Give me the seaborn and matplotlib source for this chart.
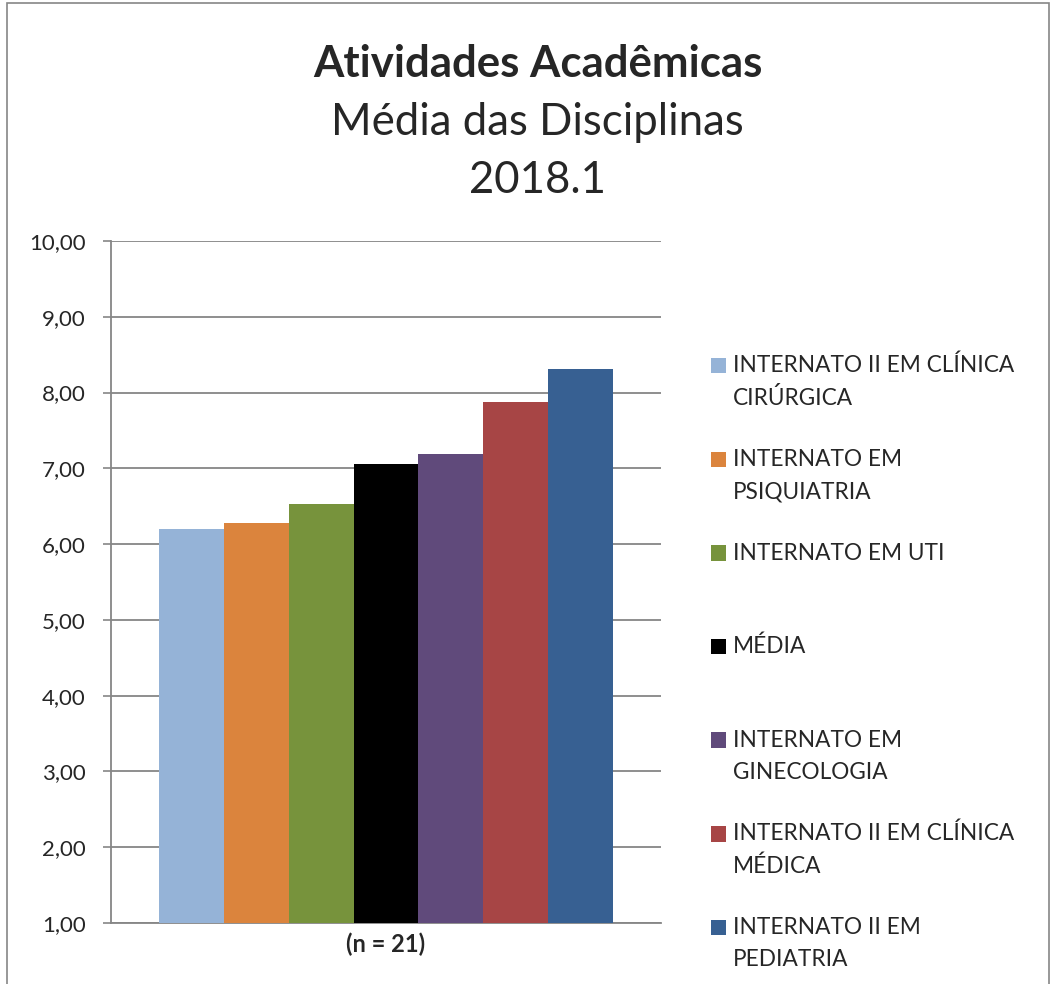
import pandas as pd
import seaborn as sns
import matplotlib.pyplot as plt
import matplotlib.patches as mpatches
from matplotlib.legend_handler import HandlerPatch

# dados
disciplinas = [
    "INTERNATO II EM CLÍNICA\nCIRÚRGICA",
    "INTERNATO EM\nPSIQUIATRIA",
    "INTERNATO EM UTI\n ",
    "MÉDIA\n ",
    "INTERNATO EM\nGINECOLOGIA",
    "INTERNATO II EM CLÍNICA\nMÉDICA",
    "INTERNATO II EM\nPEDIATRIA",
]
medias = [6.20, 6.28, 6.53, 7.06, 7.19, 7.87, 8.31]
cores = ["#95B3D7", "#DB843D", "#77933C", "#000000", "#604A7B", "#A74545", "#376092"]
grupo = "(n = 21)"
yticks = [1, 2, 3, 4, 5, 6, 7, 8, 9, 10]

df = pd.DataFrame({"grupo": grupo, "disciplina": disciplinas, "media": medias})

sns.set_style("white")
plt.rcParams["font.family"] = ["Lato", "DejaVu Sans"]
GRAY = "#868686"

fig = plt.figure(figsize=(10.52, 9.84), dpi=100)
ax = fig.add_axes([111 / 1052, 1 - 923 / 984, 550 / 1052, 682 / 984])

sns.barplot(data=df, x="grupo", y="media", hue="disciplina", hue_order=disciplinas,
            palette=cores, saturation=1, width=0.824, linewidth=0, legend=False,
            ax=ax, zorder=3)

ax.set_ylim(1, 10)
ax.set_xlim(-0.5, 0.5)
ax.set_yticks(yticks)
ax.set_yticklabels([f"{v:.2f}".replace(".", ",") for v in yticks], fontsize=16)
ax.set_xticks([0])
ax.set_xticklabels([grupo], fontweight="bold", fontsize=17)
ax.tick_params(axis="y", length=6, width=1.2, color=GRAY, pad=12, direction="out", left=True)
ax.tick_params(axis="x", length=0, pad=7)
ax.yaxis.grid(True, color=GRAY, linewidth=1.3)
ax.set_axisbelow(True)
ax.set_xlabel("")
ax.set_ylabel("")
for s in ["top", "right"]:
    ax.spines[s].set_visible(False)
for s in ["left", "bottom"]:
    ax.spines[s].set_color(GRAY)
    ax.spines[s].set_linewidth(1.3)

# titulo
fig.text(0.511, 1 - 77 / 984, "Atividades Acadêmicas", ha="center", va="baseline",
         fontsize=31.5, fontweight="bold")
fig.text(0.511, 1 - 135 / 984, "Média das Disciplinas", ha="center", va="baseline", fontsize=31.5)
fig.text(0.511, 1 - 193 / 984, "2018.1", ha="center", va="baseline", fontsize=31.5)

# legenda
FS = 16.3
shift = 12


def top_patch(legend, orig_handle, xdescent, ydescent, width, height, fontsize):
    return mpatches.Rectangle((-xdescent, -ydescent + shift), width, height)


handles = [c.patches[0] for c in ax.containers]
leg = fig.legend(handles, disciplinas, loc="upper left",
                 bbox_to_anchor=(711 / 1052, 1 - 354 / 984), frameon=False,
                 fontsize=FS, handlelength=0.66, handleheight=0.66, handletextpad=0.31,
                 labelspacing=1.775, borderpad=0, borderaxespad=0,
                 handler_map={h: HandlerPatch(patch_func=top_patch) for h in handles})
for t in leg.get_texts():
    t.set_linespacing(1.65)

# moldura do grafico
fig.add_artist(mpatches.Rectangle((7 / 1052, -0.01), 1042 / 1052, 1 - 3 / 984 + 0.01,
                                  transform=fig.transFigure, fill=False,
                                  edgecolor=GRAY, linewidth=1.2))

fig.savefig("out.png", dpi=100, facecolor="white")
